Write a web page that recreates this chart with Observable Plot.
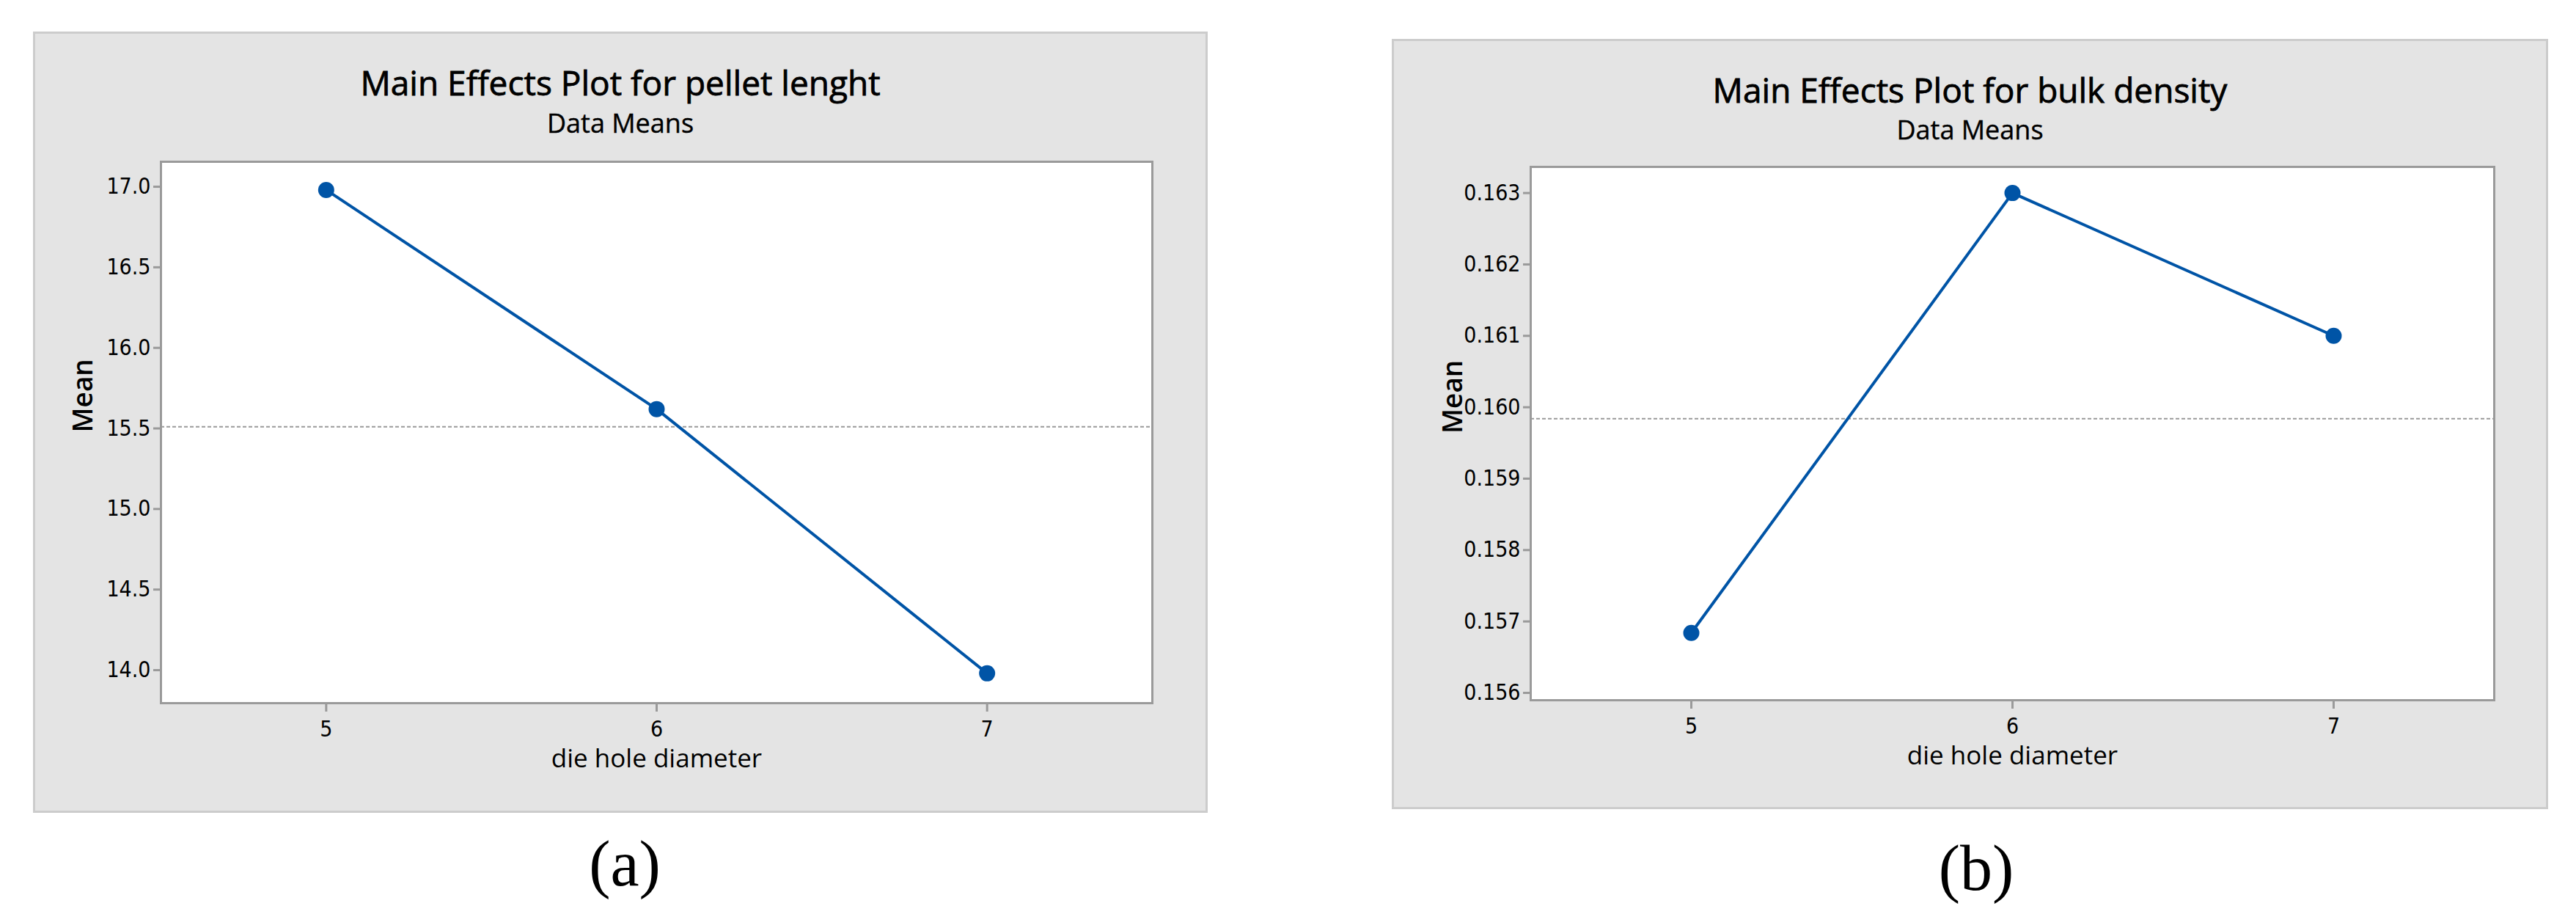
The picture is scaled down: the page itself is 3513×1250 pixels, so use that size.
<!DOCTYPE html>
<html><head><meta charset="utf-8">
<script src="https://cdn.jsdelivr.net/npm/d3@7"></script>
<script src="https://cdn.jsdelivr.net/npm/@observablehq/plot@0.6"></script>
<style>
html,body{margin:0;padding:0;background:#fff;}
body{position:relative;width:3513px;height:1250px;overflow:hidden;font-family:"Open Sans",sans-serif;}
.panel{position:absolute;box-sizing:border-box;background:#e4e4e4;border:3px solid #cccccc;}
.t{position:absolute;text-align:center;line-height:1;color:#000;white-space:nowrap;font-family:"Open Sans",sans-serif;}
.cap{position:absolute;text-align:center;line-height:1;font-family:"Liberation Serif","Times New Roman",serif;font-size:88px;color:#000;}
.plot{position:absolute;}
</style></head><body>
<script>
// ---- data ----
const levels = [5, 6, 7];
const lengthMeans = [16.98, 15.62, 13.98];
const lengthGrandMean = [15.51];
const densityMeans = [0.15684, 0.16300, 0.16100];
const densityGrandMean = [0.15984];
const xTicks = [5, 6, 7];
const lengthTicks = [14.0, 14.5, 15.0, 15.5, 16.0, 16.5, 17.0];
const densityTicks = [0.156, 0.157, 0.158, 0.159, 0.160, 0.161, 0.162, 0.163];
const titles = ["Main Effects Plot for pellet lenght", "Main Effects Plot for bulk density"];
const subtitle = "Data Means";
const xLabel = "die hole diameter";
const yLabel = "Mean";
const captions = ["(a)", "(b)"];

// ---- layout ----
const panels = [
  {box:{left:45, top:43, width:1602, height:1065}, titleTop:89, subTop:150, capCenter:852, capTop:1134,
   margins:{left:171, top:174, right:73, bottom:147}, yDomain:[13.795, 17.155],
   means:lengthMeans, grand:lengthGrandMean, yTicks:lengthTicks, fmt:d3.format(".1f")},
  {box:{left:1898, top:53, width:1577, height:1050}, titleTop:99, subTop:159, capCenter:2695, capTop:1140,
   margins:{left:186, top:171, right:71, bottom:146}, yDomain:[0.155897, 0.163366],
   means:densityMeans, grand:densityGrandMean, yTicks:densityTicks, fmt:d3.format(".3f")}
];

const blue = "#0054a6";
const tickFont = "'Liberation Sans Narrow','DejaVu Sans Condensed','Open Sans',sans-serif";

panels.forEach((p, i) => {
  const b = p.box;
  const div = document.createElement("div");
  div.className = "panel";
  Object.assign(div.style, {left:b.left+"px", top:b.top+"px", width:b.width+"px", height:b.height+"px"});
  document.body.appendChild(div);

  const t = document.createElement("div");
  t.className = "t"; t.textContent = titles[i];
  Object.assign(t.style, {left:b.left+"px", width:b.width+"px", top:p.titleTop+"px", fontSize:"46px", webkitTextStroke:"0.8px #000"});
  document.body.appendChild(t);

  const s = document.createElement("div");
  s.className = "t"; s.textContent = subtitle;
  Object.assign(s.style, {left:b.left+"px", width:b.width+"px", top:p.subTop+"px", fontSize:"36px", webkitTextStroke:"0.4px #000"});
  document.body.appendChild(s);

  const data = levels.map((l, k) => ({level:l, mean:p.means[k]}));
  const W = b.width - 6, H = b.height - 6;
  const chart = Plot.plot({
    width: W, height: H,
    marginLeft: p.margins.left, marginRight: p.margins.right,
    marginTop: p.margins.top, marginBottom: p.margins.bottom,
    style: {background:"transparent", overflow:"visible", fontFamily:"'Open Sans',sans-serif"},
    x: {domain:[4.5, 7.5]},
    y: {domain:p.yDomain},
    marks: [
      Plot.frame({fill:"white", stroke:"#9a9a9a", strokeWidth:3}),
      Plot.ruleY(p.grand, {stroke:"#9a9a9a", strokeWidth:2, strokeDasharray:"5,3"}),
      Plot.line(data, {x:"level", y:"mean", stroke:blue, strokeWidth:4}),
      Plot.dot(data, {x:"level", y:"mean", r:11, fill:blue, stroke:"none"}),
      Plot.axisX(xTicks, {tickSize:12, tickPadding:12, tickFormat:d3.format("d"), stroke:"#9a9a9a", strokeWidth:3, fill:"#000", fontSize:30, fontFamily:tickFont, label:null}),
      Plot.axisY(p.yTicks, {tickSize:10, tickPadding:4, tickFormat:p.fmt, stroke:"#9a9a9a", strokeWidth:3, fill:"#000", fontSize:30, fontFamily:tickFont, label:null}),
      Plot.text([xLabel], {frameAnchor:"bottom", dy:87, fontSize:35, fill:"#000"}),
      Plot.text([yLabel], {frameAnchor:"left", dx:-105, rotate:-90, fontSize:37, fontWeight:600, fill:"#000"})
    ]
  });
  chart.classList.add("plot");
  Object.assign(chart.style, {left:(b.left+3)+"px", top:(b.top+3)+"px"});
  document.body.appendChild(chart);

  const c = document.createElement("div");
  c.className = "cap"; c.textContent = captions[i];
  Object.assign(c.style, {left:(p.capCenter-300)+"px", width:"600px", top:p.capTop+"px"});
  document.body.appendChild(c);
});
</script>
</body></html>
